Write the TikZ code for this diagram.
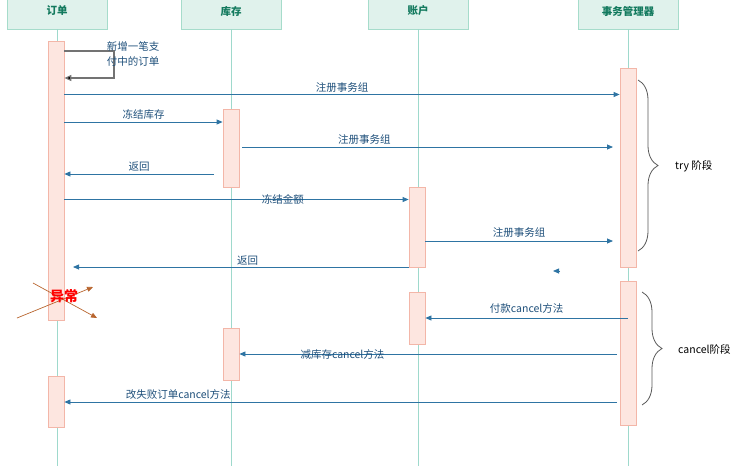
\documentclass[tikz,border=0pt]{standalone}
\usepackage{fontspec}
\setmainfont{Noto Sans CJK SC}
\usetikzlibrary{arrows.meta,decorations.pathreplacing,calc}
\definecolor{hdrfill}{HTML}{E0F2EC}
\definecolor{hdrline}{HTML}{A6DCCB}
\definecolor{hdrtext}{HTML}{137A5E}
\definecolor{lifeln}{HTML}{9ED9CC}
\definecolor{barfill}{HTML}{FDE6E0}
\definecolor{barline}{HTML}{F3B6A8}
\definecolor{msgcol}{HTML}{2E74A3}
\definecolor{lblcol}{HTML}{1E4F7A}
\definecolor{exccol}{HTML}{B8652E}
\begin{document}
\begin{tikzpicture}[x=1pt,y=-1pt,
  hdr/.style={draw=hdrline,fill=hdrfill,line width=0.8pt,minimum width=100pt,minimum height=36pt,inner sep=0pt,
    text=hdrtext,font=\fontsize{10.5}{12}\selectfont\bfseries},
  life/.style={draw=lifeln,line width=1pt},
  actbar/.style={draw=barline,fill=barfill,line width=0.8pt,minimum width=16pt,inner sep=0pt},
  msg/.style={draw=msgcol,line width=0.8pt,-{Triangle[length=6pt,width=5pt]}},
  lbl/.style={text=lblcol,font=\fontsize{10.5}{12}\selectfont,inner sep=1pt},
  brc/.style={draw=black!65,line width=0.8pt,decorate,decoration={brace,amplitude=20pt,aspect=0.5}},
  phase/.style={text=black,font=\fontsize{10.5}{12}\selectfont,anchor=west,inner sep=0pt},
  exc/.style={draw=exccol,line width=0.7pt,-{Triangle[length=6pt,width=5pt]}}
]
\useasboundingbox (0,0) rectangle (741,466);
% headers
\node[hdr] (h1) at (57,11) {\raisebox{-5pt}{订单}};
\node[hdr] (h2) at (231,11) {\raisebox{-5pt}{库存}};
\node[hdr] (h3) at (418,11) {\raisebox{-5pt}{账户}};
\node[hdr] (h4) at (628,11) {\raisebox{-5pt}{事务管理器}};
% lifelines
\coordinate (e1) at (57,466);
\coordinate (e2) at (231,466);
\coordinate (e3) at (418,466);
\coordinate (e4) at (628,466);
\draw[life] (h1.south) -- (e1);
\draw[life] (h2.south) -- (e2);
\draw[life] (h3.south) -- (e3);
\draw[life] (h4.south) -- (e4);
% activation bars
\node[actbar,minimum height=279pt] (o1) at (56,180.5) {};
\node[actbar,minimum height=51pt] (o2) at (56,401.5) {};
\node[actbar,minimum height=78pt] (k1) at (231,148) {};
\node[actbar,minimum height=52pt] (k2) at (231,354) {};
\node[actbar,minimum height=80pt] (a1) at (417,227) {};
\node[actbar,minimum height=52pt] (a2) at (417,318) {};
\node[actbar,minimum height=199pt] (t1) at (628,167.5) {};
\node[actbar,minimum height=144pt] (t2) at (628,353) {};
% self message
\draw[draw=black!55,line width=1.2pt,-{Triangle[length=7pt,width=6pt,fill=black]}]
  (o1.east |- 0,51) -- (114,51) -- (114,78) -- (o1.east |- 0,78);
\node[lbl,align=center,font=\fontsize{10.5}{15}\selectfont] (selfl) at (133,53.5) {新增一笔支\\付中的订单};
% try phase messages
\draw[msg] (o1.east |- 0,94.5) -- node[lbl,above=1pt] {注册事务组} (t1.west |- 0,94.5);
\draw[msg] (o1.east |- 0,122) -- node[lbl,above=1pt] {冻结库存} (k1.west |- 0,122);
\coordinate (s3) at (242,147);
\coordinate (f3) at (613,147);
\draw[msg] (s3) -- node[lbl,above=1pt,pos=0.33] {注册事务组} (f3);
\coordinate (s4) at (214,174);
\draw[msg] (s4) -- node[lbl,above=1pt] {返回} (o1.east |- 0,174);
\draw[msg] (o1.east |- 0,199.5) -- node[lbl,pos=0.635] {冻结金额} (a1.west |- 0,199.5);
\coordinate (f6) at (613,241);
\draw[msg] (a1.east |- 0,241) -- node[lbl,above=2pt] {注册事务组} (f6);
\coordinate (f7) at (73,267);
\draw[msg] (a1.west |- 0,267) -- node[lbl,above=0pt,pos=0.48] {返回} (f7);
\coordinate (s8) at (560,271);
\coordinate (f8) at (553,271);
\draw[msg] (s8) -- (f8);
% cancel phase
\draw[msg] (t2.center |- 0,318) -- node[lbl,above=3pt] {付款cancel方法} (a2.east |- 0,318);
\coordinate (s10) at (617,354);
\draw[msg] (s10) -- node[lbl,pos=0.727] {减库存cancel方法} (k2.east |- 0,354);
\coordinate (s11) at (617,402);
\draw[msg] (s11) -- node[lbl,above=1pt,pos=0.794] {改失败订单cancel方法} (o2.east |- 0,402);
% exception
\coordinate (x1a) at (33,283);
\coordinate (x1b) at (97,318);
\coordinate (x2a) at (17,318);
\coordinate (x2b) at (93,287);
\draw[exc] (x1a) -- (x1b);
\draw[exc] (x2a) -- (x2b);
\node[text=red,font=\fontsize{14}{16}\selectfont\bfseries,inner sep=0pt] (exn) at (64,296) {异常};
% braces
\coordinate (b1a) at (638,80);
\coordinate (b1b) at (638,251);
\coordinate (b2a) at (642,292);
\coordinate (b2b) at (642,405);
\draw[brc] (b1a) -- (b1b);
\draw[brc] (b2a) -- (b2b);
\node[phase] (try) at (675,166) {try 阶段};
\node[phase] (can) at (678,349) {cancel阶段};
\end{tikzpicture}
\end{document}
